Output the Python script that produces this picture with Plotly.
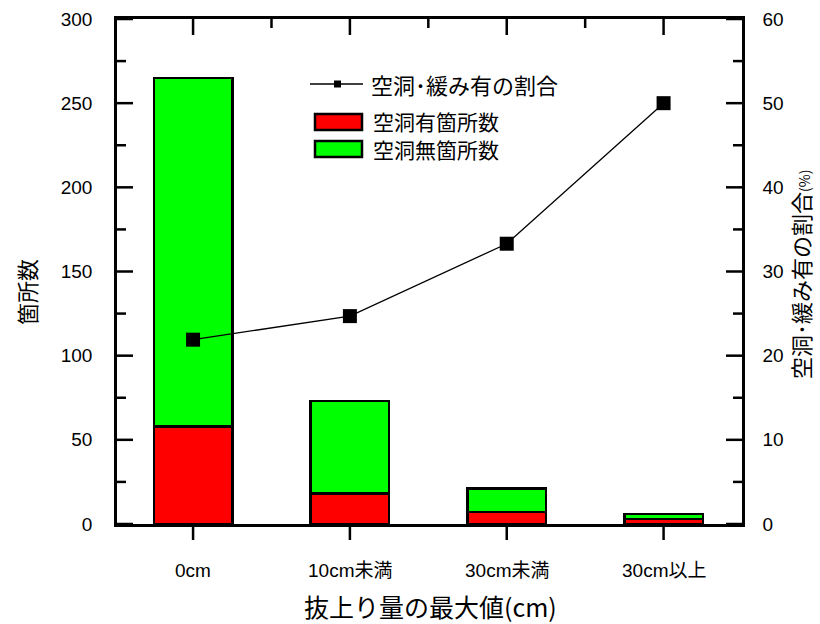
import plotly.graph_objects as go

categories = ["0cm", "10cm未満", "30cm未満", "30cm以上"]
with_cavity = [58, 18, 7, 3]        # 空洞有箇所数
without_cavity = [207, 55, 14, 3]   # 空洞無箇所数
ratio_pct = [21.9, 24.7, 33.3, 50.0]  # 空洞・緩み有の割合(%)

left_major = [0, 50, 100, 150, 200, 250, 300]
left_minor = [25, 75, 125, 175, 225, 275]
right_major = [0, 10, 20, 30, 40, 50, 60]
right_minor = [5, 15, 25, 35, 45, 55]

xpos = list(range(len(categories)))
x_minor = [0.5, 1.5, 2.5]
FONT = "Liberation Sans, Noto Sans CJK JP, sans-serif"
JFONT = "Noto Sans CJK JP, sans-serif"

fig = go.Figure()
fig.add_trace(go.Bar(x=xpos, y=with_cavity, name="空洞有箇所数",
                     marker=dict(color="#ff0000", line=dict(color="black", width=2.5)),
                     width=0.5, showlegend=False))
fig.add_trace(go.Bar(x=xpos, y=without_cavity, name="空洞無箇所数",
                     marker=dict(color="#00ff00", line=dict(color="black", width=2.5)),
                     width=0.5, showlegend=False))
fig.add_trace(go.Scatter(x=xpos, y=ratio_pct, yaxis="y2", mode="lines+markers",
                         line=dict(color="black", width=1.3),
                         marker=dict(symbol="square", size=14, color="black"),
                         name="空洞･緩み有の割合", showlegend=False))

xr = [-0.485, 3.5]
LW = 2.5
fig.update_layout(
    template="none",
    width=820, height=624,
    margin=dict(l=117, r=78, t=19, b=100),
    paper_bgcolor="white", plot_bgcolor="white",
    barmode="stack",
    font=dict(family=FONT, size=19, color="black"),
    xaxis=dict(range=xr, tickmode="array", tickvals=xpos,
               showticklabels=False, mirror=True,
               showline=True, linecolor="black", linewidth=LW,
               ticks="", showgrid=False, zeroline=False),
    yaxis=dict(range=[0, 300], tickmode="array", tickvals=left_major,
               showline=True, linecolor="black", linewidth=LW,
               ticks="", ticklabelstandoff=18, showgrid=False, zeroline=False,
               tickfont=dict(family=FONT, size=19)),
    yaxis2=dict(range=[0, 60], tickmode="array", tickvals=right_major,
                overlaying="y", side="right",
                showline=True, linecolor="black", linewidth=LW,
                ticks="", ticklabelstandoff=14, showgrid=False, zeroline=False,
                tickfont=dict(family=FONT, size=19)),
)

W, H, L, T = 625.0, 505.0, 117.0, 19.0
def px(x):
    return (x - L) / W
def py(y):
    return (T + H - y) / H

annotations = [
    dict(text=c, x=i, xref="x", y=py(570), yref="paper", showarrow=False,
         font=dict(family=FONT, size=19), xanchor="center", yanchor="middle")
    for i, c in zip(xpos, categories)
]
annotations += [
    dict(text="抜上り量の最大値(cm)", x=px(430), y=py(606), xref="paper", yref="paper",
         showarrow=False, font=dict(family=JFONT, size=25), xanchor="center", yanchor="middle"),
    dict(text="箇所数", x=px(26), y=py(292), xref="paper", yref="paper",
         showarrow=False, textangle=-90, font=dict(family=JFONT, size=22),
         xanchor="center", yanchor="middle"),
    dict(text="空洞･緩み有の割合<span style='font-size:14px'>(%)</span>",
         x=px(800), y=py(275), xref="paper", yref="paper",
         showarrow=False, textangle=-90, font=dict(family=JFONT, size=22),
         xanchor="center", yanchor="middle"),
    dict(text="空洞･緩み有の割合", x=px(369), y=py(84), xref="paper", yref="paper",
         showarrow=False, font=dict(family=JFONT, size=22), xanchor="left", yanchor="middle"),
    dict(text="空洞有箇所数", x=px(371), y=py(121), xref="paper", yref="paper",
         showarrow=False, font=dict(family=JFONT, size=21), xanchor="left", yanchor="middle"),
    dict(text="空洞無箇所数", x=px(371), y=py(149), xref="paper", yref="paper",
         showarrow=False, font=dict(family=JFONT, size=21), xanchor="left", yanchor="middle"),
]
fig.update_layout(annotations=annotations)

TK = dict(color="black", width=2.5)
shapes = []
# left axis ticks (inside)
for v, ln in [(v, 16) for v in left_major] + [(v, 9) for v in left_minor]:
    shapes.append(dict(type="line", xref="paper", yref="y", xsizemode="pixel", xanchor=0,
                       x0=0, x1=ln, y0=v, y1=v, line=TK, layer="above"))
# right axis ticks (inside)
for v, ln in [(v, 16) for v in right_major] + [(v, 9) for v in right_minor]:
    shapes.append(dict(type="line", xref="paper", yref="y2", xsizemode="pixel", xanchor=1,
                       x0=0, x1=-ln, y0=v, y1=v, line=TK, layer="above"))
# bottom ticks (outside)
for v in xpos:
    shapes.append(dict(type="line", xref="x", yref="paper", ysizemode="pixel", yanchor=0,
                       x0=v, x1=v, y0=0, y1=-16, line=TK, layer="above"))
# top ticks (inside)
for v, ln in [(v, 16) for v in xpos] + [(v, 9) for v in x_minor]:
    shapes.append(dict(type="line", xref="x", yref="paper", ysizemode="pixel", yanchor=1,
                       x0=v, x1=v, y0=0, y1=-ln, line=TK, layer="above"))
# legend
shapes += [
    dict(type="line", xref="paper", yref="paper", x0=px(310), x1=px(363), y0=py(84), y1=py(84),
         line=dict(color="black", width=1.3)),
    dict(type="rect", xref="paper", yref="paper", x0=px(334), x1=px(341), y0=py(80.5), y1=py(87.5),
         fillcolor="black", line=dict(width=0)),
    dict(type="rect", xref="paper", yref="paper", x0=px(315), x1=px(362), y0=py(130), y1=py(114),
         fillcolor="#ff0000", line=dict(color="black", width=2.5)),
    dict(type="rect", xref="paper", yref="paper", x0=px(315), x1=px(362), y0=py(157), y1=py(141),
         fillcolor="#00ff00", line=dict(color="black", width=2.5)),
]
fig.update_layout(shapes=shapes)

fig.write_html("out.html")
